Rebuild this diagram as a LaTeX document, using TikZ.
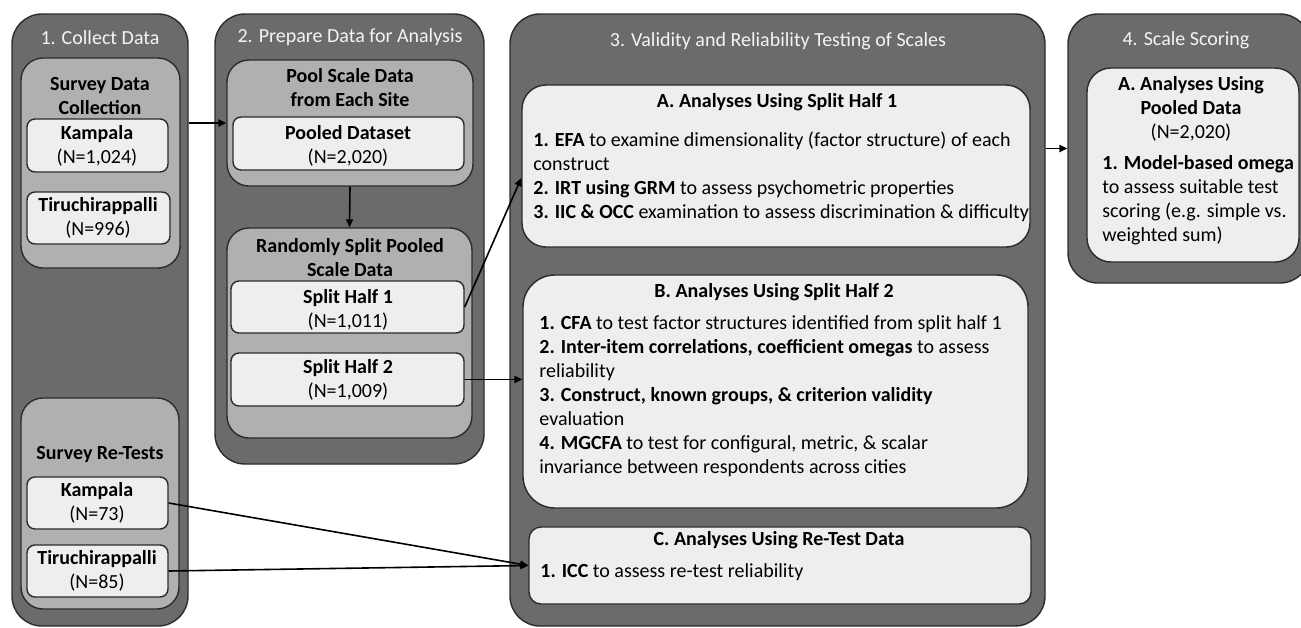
\documentclass[tikz,border=0pt]{standalone}
\usepackage{fontspec}
\setmainfont{Carlito}
\usetikzlibrary{fit,arrows.meta}
\definecolor{cdark}{HTML}{6B6B6B}
\definecolor{cmid}{HTML}{B0B0B0}
\definecolor{clight}{HTML}{EEEEEE}
\definecolor{cline}{HTML}{2B2B2B}
\definecolor{ctitle}{HTML}{F4F4F4}
\tikzset{
  outerbox/.style={fill=cdark,draw=cline,line width=0.7pt,rounded corners=15pt,inner sep=0pt},
  midbox/.style={fill=cmid,draw=cline,line width=0.7pt,rounded corners=11pt,inner sep=0pt},
  inbox/.style={fill=clight,draw=cline,line width=0.7pt,rounded corners=4pt,inner sep=0pt},
  bigbox/.style={fill=clight,draw=cline,line width=0.7pt,rounded corners=12pt,inner sep=0pt},
  hdr/.style={text=ctitle,font=\fontsize{10}{12}\selectfont,inner sep=0pt},
  lbl/.style={align=center,font=\fontsize{10}{12}\selectfont,inner sep=0pt},
  body/.style={align=left,anchor=north west,font=\fontsize{10}{12}\selectfont,inner sep=0pt},
  arr/.style={line width=0.8pt,draw=black,-{Triangle[length=4pt,width=3.6pt]}}
}
\begin{document}
\begin{tikzpicture}[x=0.5pt,y=-0.5pt]
\useasboundingbox (0,0) rectangle (1301,627);
% column 1
\node[outerbox,fit={(12,14) (188,626)}] (c1) {};
\node[hdr] (c1t) at (100,38) {1. Collect Data};
\node[midbox,fit={(21,58) (180,268)}] (sdc) {};
\node[lbl] (sdct) at (100,96) {\textbf{Survey Data}\\\textbf{Collection}};
\node[inbox,fit={(27,119) (168,172)}] (k1) {};
\node[lbl] (k1t) at (97,146) {\textbf{Kampala}\\(N=1,024)};
\node[inbox,fit={(27,192) (170,244)}] (t1) {};
\node[lbl] (t1t) at (98,218) {\textbf{Tiruchirappalli}\\(N=996)};
\node[midbox,fit={(21,398) (179,609)}] (srt) {};
\node[lbl] (srtt) at (100,455) {\textbf{Survey Re-Tests}};
\node[inbox,fit={(27,477) (168,529)}] (k2) {};
\node[lbl] (k2t) at (97,503) {\textbf{Kampala}\\(N=73)};
\node[inbox,fit={(27,545) (168,597)}] (t2) {};
\node[lbl] (t2t) at (97,571) {\textbf{Tiruchirappalli}\\(N=85)};
% column 2
\node[outerbox,fit={(215,14) (484,464)}] (c2) {};
\node[hdr] (c2t) at (350,37) {2. Prepare Data for Analysis};
\node[midbox,fit={(227,60) (473,186)}] (pool) {};
\node[lbl] (poolt) at (350,88) {\textbf{Pool Scale Data}\\\textbf{from Each Site}};
\node[inbox,fit={(233,117) (464,170)}] (pd) {};
\node[lbl] (pdt) at (348,146) {\textbf{Pooled Dataset}\\(N=2,020)};
\node[midbox,fit={(227,228) (472,438)}] (rand) {};
\node[lbl] (randt) at (350,258) {\textbf{Randomly Split Pooled}\\\textbf{Scale Data}};
\node[inbox,fit={(231,281) (464,333)}] (sh1) {};
\node[lbl] (sh1t) at (348,310) {\textbf{Split Half 1}\\(N=1,011)};
\node[inbox,fit={(231,353) (464,406)}] (sh2) {};
\node[lbl] (sh2t) at (348,380) {\textbf{Split Half 2}\\(N=1,009)};
% column 3
\node[outerbox,fit={(510,14) (1045,626)}] (c3) {};
\node[hdr] (c3t) at (778,41) {3. Validity and Reliability Testing of Scales};
\node[bigbox,fit={(522,85) (1030,247)}] (abox) {};
\node[lbl] (aboxt) at (777,102) {\textbf{A. Analyses Using Split Half 1}};
\node[body] (aboxb) at (533,131) {\textbf{1. EFA} to examine dimensionality (factor structure) of each\\construct\\\textbf{2. IRT using GRM} to assess psychometric properties\\\textbf{3. IIC \& OCC} examination to assess discrimination \& difficulty};
\node[bigbox,rounded corners=16pt,fit={(523,275) (1028,508)}] (bbox) {};
\node[lbl] (bboxt) at (774,292) {\textbf{B. Analyses Using Split Half 2}};
\node[body] (bboxb) at (539,315) {\textbf{1. CFA} to test factor structures identified from split half 1\\\textbf{2. Inter-item correlations, coefficient omegas} to assess\\reliability\\\textbf{3. Construct, known groups, \& criterion validity}\\evaluation\\\textbf{4. MGCFA} to test for configural, metric, \& scalar\\invariance between respondents across cities};
\node[bigbox,rounded corners=6pt,fit={(529,527) (1031,604)}] (cbox) {};
\node[lbl] (cboxt) at (779,540) {\textbf{C. Analyses Using Re-Test Data}};
\node[body] (cboxb) at (540,563) {\textbf{1. ICC} to assess re-test reliability};
% column 4
\node[outerbox,fit={(1068,14) (1310,283)}] (c4) {};
\node[hdr] (c4t) at (1186,40) {4. Scale Scoring};
\node[bigbox,fit={(1087,68) (1299,262)}] (dbox) {};
\node[lbl] (dboxt) at (1191,109) {\textbf{A. Analyses Using}\\\textbf{Pooled Data}\\(N=2,020)};
\node[body] (dboxb) at (1102,155) {\textbf{1. Model-based omega}\\to assess suitable test\\scoring (e.g. simple vs.\\weighted sum)};
% connectors
\draw[arr] (c1.east |- pool.west) -- (pool.west);
\draw[arr] (pool.south) -- (rand.north);
\draw[arr] (sh1.east) -- ([yshift=-6pt]abox.west);
\draw[arr] (sh2.east) -- (bbox.west |- sh2.east);
\draw[arr] (k2.east) -- (cbox.west);
\draw[arr] (t2.east) -- (cbox.west);
\draw[arr] (c3.east |- c4.west) -- (c4.west);
\end{tikzpicture}
\end{document}
